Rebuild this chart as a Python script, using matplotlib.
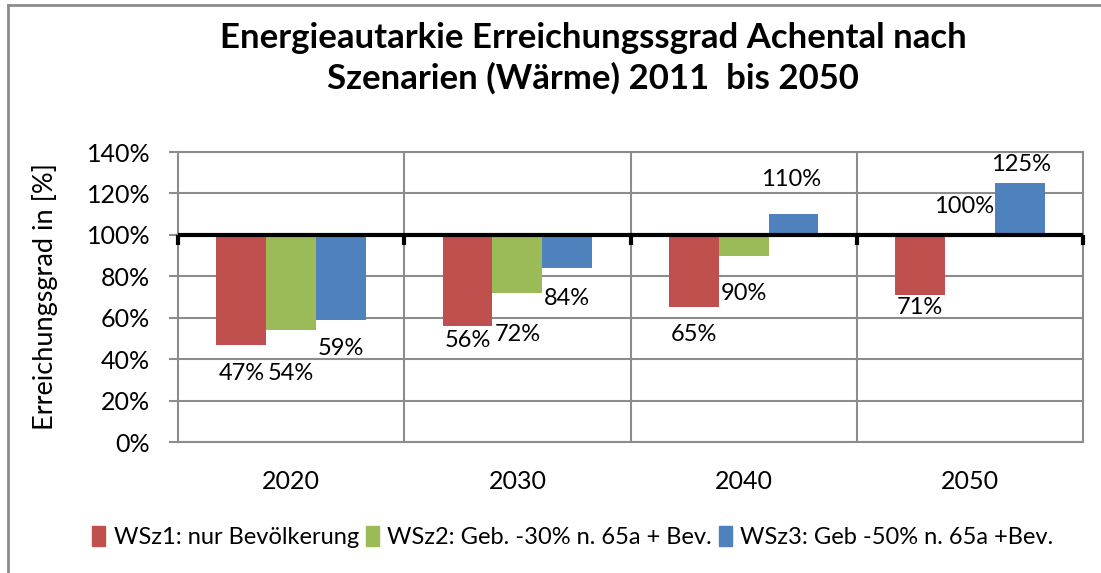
import matplotlib.pyplot as plt
from matplotlib.lines import Line2D
from matplotlib.patches import Patch
import numpy as np

plt.rcParams['font.family'] = ['Lato', 'DejaVu Sans']

years = ['2020', '2030', '2040', '2050']
series = ['WSz1: nur Bevölkerung', 'WSz2: Geb. -30% n. 65a + Bev.', 'WSz3: Geb -50% n. 65a +Bev.']
wsz1 = [0.47, 0.56, 0.65, 0.71]
wsz2 = [0.54, 0.72, 0.90, 1.00]
wsz3 = [0.59, 0.84, 1.10, 1.25]
colors = ['#C0504D', '#9BBB59', '#4F81BD']

# where Excel put the value labels (in axis units), placed by hand in the original
label_y = [[0.333, 0.488, 0.517, 0.647],
           [0.333, 0.517, 0.719, 1.139],
           [0.449, 0.695, 1.265, 1.342]]
label_dx = [[0, 0, 0, 0],
            [0, 0, 0, -6],
            [0, 0, -2, 1]]

fig = plt.figure(figsize=(11.01, 5.73), dpi=100)
ax = fig.add_axes([178/1101, 1-442/573, (1083-178)/1101, (442-152)/573])

x = np.arange(len(years))
w = 0.22
for i, vals in enumerate([wsz1, wsz2, wsz3]):
    xs = x + (i-1)*w
    ax.bar(xs, np.array(vals)-1.0, bottom=1.0, width=w, color=colors[i], zorder=3)
    for j, v in enumerate(vals):
        ax.annotate(f'{v*100:.0f}%', (xs[j], label_y[i][j]), xytext=(label_dx[i][j], 0),
                    textcoords='offset pixels', ha='center', va='center', fontsize=17, zorder=5)

ax.set_xlim(-0.5, 3.5)
ax.set_ylim(0, 1.4)
ax.set_yticks(np.arange(0, 1.41, 0.2))
ax.set_yticklabels([f'{t*100:.0f}%' for t in np.arange(0, 1.41, 0.2)], fontsize=18)
ax.set_xticks(x)
ax.set_xticklabels(years, fontsize=18)
ax.tick_params(axis='x', length=0, pad=20)
ax.tick_params(axis='y', length=6.5, width=1.5, color='#8c8c8c', pad=13.5)
ax.set_ylabel('Erreichungsgrad in [%]', fontsize=19.5)
ax.yaxis.set_label_coords(-120/905, 0.5)

ax.grid(axis='y', color='#8c8c8c', lw=1.5, zorder=0)
for b in [0.5, 1.5, 2.5]:
    ax.axvline(b, color='#8c8c8c', lw=1.5, zorder=0)
for s in ax.spines.values():
    s.set_color('#8c8c8c')
    s.set_linewidth(1.5)

# 100% line acting as category axis
ax.axhline(1.0, color='black', lw=3, zorder=4)
ax.plot([-0.5, 0.5, 1.5, 2.5, 3.5], [1.0]*5, ls='none', marker=3, ms=7, mew=3, color='black', zorder=4, clip_on=False)

fig.text(593/1101, 1-38/573, 'Energieautarkie Erreichungssgrad Achental nach', ha='center', va='center',
         fontsize=25, fontweight='bold')
fig.text(593/1101, 1-78/573, 'Szenarien (Wärme) 2011  bis 2050', ha='center', va='center',
         fontsize=25, fontweight='bold')

handles = [Patch(color=c) for c in colors]
fig.legend(handles, series, loc='center', bbox_to_anchor=(573/1101, 1-537/573), ncol=3, frameon=False,
           fontsize=17, handlelength=0.55, handleheight=0.9, handletextpad=0.35, columnspacing=0.3)

# chart area border (only top and left visible)
fig.add_artist(Line2D([8/1101, 1], [1-5/573, 1-5/573], color='#8c8c8c', lw=2))
fig.add_artist(Line2D([8/1101, 8/1101], [0, 1-5/573], color='#8c8c8c', lw=2))

fig.savefig('out.png', dpi=100)
